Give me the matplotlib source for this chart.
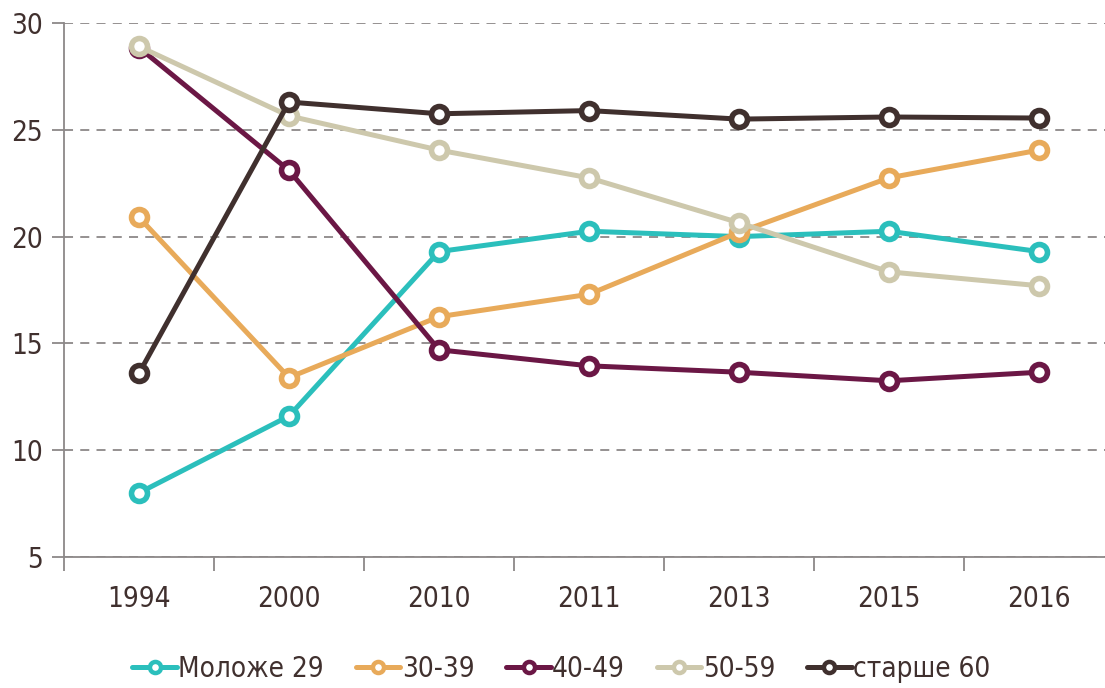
import matplotlib.pyplot as plt

years = ['1994', '2000', '2010', '2011', '2013', '2015', '2016']
labels = ['Моложе 29', '30-39', '40-49', '50-59', 'старше 60']
under29 = [8.0, 11.6, 19.3, 20.25, 20.0, 20.25, 19.3]
age30_39 = [20.9, 13.4, 16.25, 17.3, 20.2, 22.75, 24.05]
age40_49 = [28.85, 23.1, 14.7, 13.95, 13.65, 13.25, 13.65]
age50_59 = [28.9, 25.65, 24.05, 22.75, 20.65, 18.35, 17.7]
over60 = [13.6, 26.3, 25.75, 25.9, 25.5, 25.6, 25.55]
series = [under29, age30_39, age40_49, age50_59, over60]
colors = ['#2bbfbc', '#e8aa5a', '#6b1745', '#cdc8ac', '#40302e']

plt.rcParams['font.family'] = ['DejaVu Sans']
plt.rcParams['font.stretch'] = 'condensed'
txt = '#40302e'

fig = plt.figure(figsize=(11.05, 6.88), dpi=100)
ax = fig.add_axes([64/1105, 1 - 557/688, 1050/1105, 534/688])

x = range(len(years))
for vals, lab, c in zip(series, labels, colors):
    ax.plot(x, vals, color=c, lw=3.6, marker='o', ms=11.5, mfc='white',
            mec=c, mew=4, label=lab, solid_capstyle='round')

ax.set_xlim(-0.5, 6.5)
ax.set_ylim(5, 30)
ax.set_yticks([5, 10, 15, 20, 25, 30])
ax.set_xticks(list(x))
ax.set_xticklabels(years)
ax.set_xticks([i - 0.5 for i in range(8)], minor=True)
ax.tick_params(axis='x', which='major', length=0, pad=20, labelsize=20, labelcolor=txt)
ax.tick_params(axis='x', which='minor', length=10, width=1.3, color='#8c8888', direction='out')
ax.tick_params(axis='y', length=9, width=1.3, color='#8c8888', labelsize=20,
               labelcolor=txt, pad=6)
ax.yaxis.grid(True, ls=(0, (5, 4)), color='#8c8888', lw=1.3)
ax.set_axisbelow(True)
for s in ['top', 'right']:
    ax.spines[s].set_visible(False)
for s in ['left', 'bottom']:
    ax.spines[s].set_color('#8c8888')
    ax.spines[s].set_linewidth(1.3)

leg = fig.legend(loc='center', bbox_to_anchor=(0.508, 0.028), ncol=5, frameon=False,
                 fontsize=20, handlelength=1.6, handletextpad=0.05, columnspacing=1.15,
                 labelcolor=txt)
for h in leg.legend_handles:
    h.set_markersize(8)
    h.set_markeredgewidth(3.2)

fig.savefig('out.png', dpi=100)
